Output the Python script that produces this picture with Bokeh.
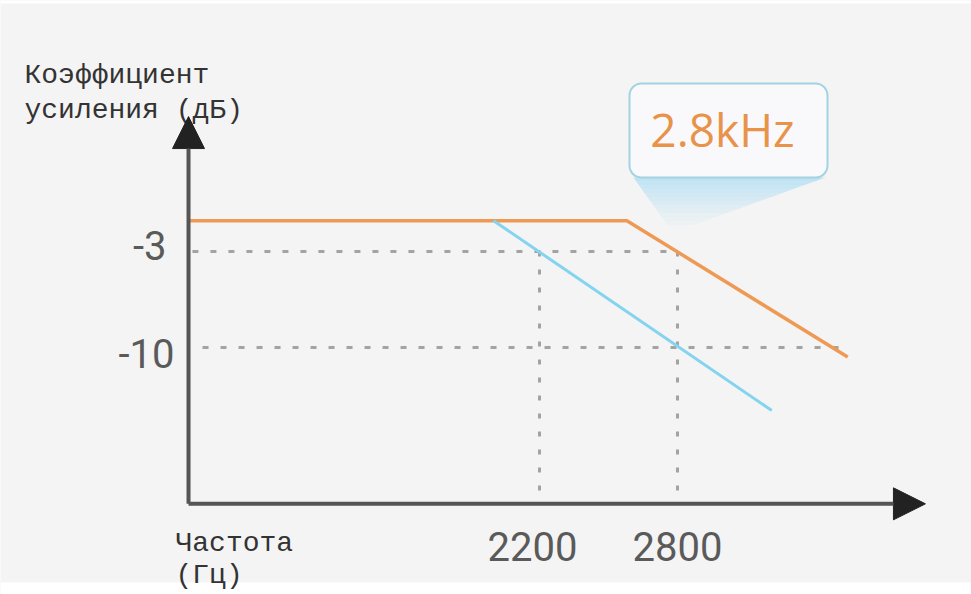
from bokeh.plotting import figure
from bokeh.models import Range1d, Arrow, NormalHead
from bokeh.core.properties import value
from bokeh.embed import file_html
from bokeh.resources import INLINE

# ---------------- data ----------------
FREQ_TICKS = [2200, 2800]
FREQ_LABELS = ["2200", "2800"]
GAIN_TICKS = [-3, -10]
GAIN_LABELS = ["-3", "-10"]

orange_freq = [680, 2580, 3540]
orange_gain = [-0.75, -0.75, -10.7]

blue_freq = [2000, 3210]
blue_gain = [-0.75, -14.6]

AXIS_FREQ0 = 674      # where the gain axis sits
AXIS_GAIN0 = -21.4    # where the frequency axis sits
AXIS_FREQ_END = 3878
AXIS_GAIN_END = 6.84

ref3_freq = [691, 2760]
ref10_freq = [735, 3552]

CUTOFF_LABEL = "2.8kHz"
Y_TITLE = ["Коэффициент", "усиления (дБ)"]
X_TITLE = ["Частота", "(Гц)"]

# ---------------- layout helpers (pixel -> data) ----------------
K = 600 / 138.0   # Hz per pixel
M = 7 / 96.0      # dB per pixel


def fx(px):
    return 2200 + (px - 539) * K


def fy(py):
    return -3 - (py - 251) * M


W, H = 971, 594
p = figure(width=W, height=H, x_range=Range1d(fx(0), fx(W)), y_range=Range1d(fy(H), fy(0)),
           output_backend="svg", toolbar_location=None, x_axis_location=None, y_axis_location=None,
           min_border=0, outline_line_color=None, background_fill_color="#f4f4f4",
           border_fill_color="#ffffff")
p.grid.visible = False

# white margins (top strip and bottom strip)
p.quad(left=[fx(0)], right=[fx(W)], top=[fy(582)], bottom=[fy(H)],
       fill_color="#ffffff", line_color=None)
p.quad(left=[fx(0)], right=[fx(W)], top=[fy(0)], bottom=[fy(3)],
       fill_color="#ffffff", line_color=None)

# dotted reference lines
dot = "6 12"
p.line(x=ref3_freq, y=[GAIN_TICKS[0]] * 2, line_color="#a3a3a3", line_width=3, line_dash=dot)
p.line(x=ref10_freq, y=[GAIN_TICKS[1]] * 2, line_color="#a3a3a3", line_width=3, line_dash=dot)
for f in FREQ_TICKS:
    p.line(x=[f, f], y=[GAIN_TICKS[0], AXIS_GAIN0], line_color="#a3a3a3", line_width=3, line_dash="5 13")

# gradient callout pointer
tri_top_l, tri_top_r, tri_tip = (633, 177), (825, 177), (672, 232)
n = 14
xs, ys, alphas = [], [], []
for i in range(n):
    t0, t1 = i / n, (i + 1) / n

    def pt(a, t):
        return (a[0] + (tri_tip[0] - a[0]) * t, a[1] + (tri_tip[1] - a[1]) * t)
    l0, l1 = pt(tri_top_l, t0), pt(tri_top_l, t1)
    r0, r1 = pt(tri_top_r, t0), pt(tri_top_r, t1)
    xs.append([fx(l0[0]), fx(r0[0]), fx(r1[0]), fx(l1[0])])
    ys.append([fy(l0[1]), fy(r0[1]), fy(r1[1]), fy(l1[1])])
    alphas.append(0.75 * (1 - (t0 + t1) / 2) ** 1.3)
p.patches(xs=xs, ys=ys, fill_color="#a9dcf3", fill_alpha=alphas, line_color=None)

# callout box
p.quad(left=[fx(629)], right=[fx(827)], top=[fy(83)], bottom=[fy(177)], border_radius=12,
       fill_color="#f9f9fb", line_color="#a3d2e3", line_width=2)
p.text(x=[fx(722)], y=[fy(128)], text=[CUTOFF_LABEL], text_font=value("Open Sans"),
       text_font_size="46px", text_color="#e8934a", text_align="center", text_baseline="middle")

# response curves
p.line(x=orange_freq, y=orange_gain, line_color="#ee9a55", line_width=3.5)
p.line(x=blue_freq, y=blue_gain, line_color="#84d4f0", line_width=3)

# axes with arrow heads
p.add_layout(Arrow(end=NormalHead(size=32, fill_color="#222222", line_color="#222222", line_width=1),
                   x_start=AXIS_FREQ0, y_start=AXIS_GAIN0, x_end=AXIS_FREQ_END, y_end=AXIS_GAIN0,
                   line_color="#555555", line_width=4))
p.add_layout(Arrow(end=NormalHead(size=32, fill_color="#222222", line_color="#222222", line_width=1),
                   x_start=AXIS_FREQ0, y_start=AXIS_GAIN0, x_end=AXIS_FREQ0, y_end=AXIS_GAIN_END,
                   line_color="#555555", line_width=4))

# tick labels
tick_font = value("Roboto")
p.text(x=[fx(532), fx(677)], y=[fy(546)] * 2, text=FREQ_LABELS, text_font=tick_font, text_font_size="40px",
       text_color="#5a5a5a", text_align="center", text_baseline="middle")
p.text(x=[fx(166), fx(174)], y=[fy(245), fy(353)], text=GAIN_LABELS, text_font=tick_font,
       text_font_size="40px", text_color="#5a5a5a", text_align="right", text_baseline="middle")

# axis titles
mono = value("Liberation Mono")
p.text(x=[fx(24)] * 2, y=[fy(75), fy(110)], text=Y_TITLE, text_font=mono, text_font_size="28px",
       text_color="#333333", text_align="left", text_baseline="middle")
p.text(x=[fx(175)] * 2, y=[fy(543), fy(575)], text=X_TITLE, text_font=mono, text_font_size="28px",
       text_color="#333333", text_align="left", text_baseline="middle")

open("out.html", "w").write(file_html(p, INLINE))
